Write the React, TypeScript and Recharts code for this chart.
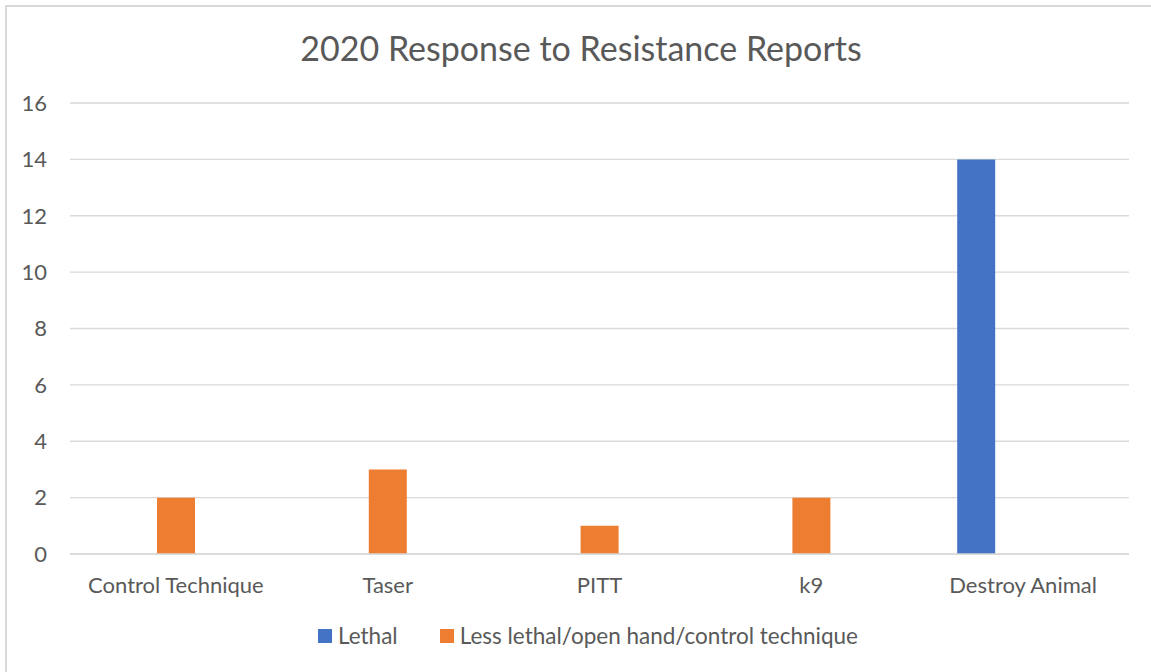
import { BarChart, Bar, XAxis, YAxis, CartesianGrid } from 'recharts';

const categories = ['Control Technique', 'Taser', 'PITT', 'k9', 'Destroy Animal'];
const lethal = [null, null, null, null, 14];
const lessLethal = [2, 3, 1, 2, null];
// Excel-style third (empty) slot so the orange bar sits in the middle of each group
const emptySlot = [null, null, null, null, null];
const yTicks = [0, 2, 4, 6, 8, 10, 12, 14, 16];

const SERIES = [
  { key: 'lethal', name: 'Lethal', color: '#4472C4' },
  { key: 'lessLethal', name: 'Less lethal/open hand/control technique', color: '#ED7D31' },
];

const FONT = 'Lato, "Open Sans", sans-serif';
const TEXT = '#595959';
const GRID = '#d9d9d9';

const data = categories.map((name, i) => ({
  name,
  lethal: lethal[i],
  lessLethal: lessLethal[i],
  empty: emptySlot[i],
}));

export default function App() {
  return (
    <div style={{ position: 'absolute', left: 0, top: 0, width: 1151, height: 672, background: '#fff', fontFamily: FONT, overflow: 'hidden' }}>
      {/* chart frame, only left and top edges are visible in the crop */}
      <div style={{ position: 'absolute', left: 5, top: 5, width: 2, height: 667, background: GRID }} />
      <div style={{ position: 'absolute', left: 5, top: 5, width: 1146, height: 2, background: GRID }} />
      <div style={{ position: 'absolute', left: 0, width: 1162, top: 27, textAlign: 'center', fontSize: 34, color: TEXT }}>
        2020 Response to Resistance Reports
      </div>
      <div style={{ position: 'absolute', left: 0, top: 0 }}>
        <BarChart width={1151} height={672} data={data} margin={{ top: 103, right: 22, bottom: 74, left: 0 }} barSize={38} barGap={9}>
          <CartesianGrid vertical={false} stroke={GRID} strokeWidth={1.3} />
          <XAxis dataKey="name" height={44} axisLine={{ stroke: GRID, strokeWidth: 1.3 }} tickLine={false} tick={{ fill: TEXT, fontSize: 22, fontFamily: FONT }} tickMargin={17} />
          <YAxis width={70} domain={[0, 16]} ticks={yTicks} axisLine={false} tickLine={false} tick={{ fill: TEXT, fontSize: 22, fontFamily: FONT }} tickMargin={17} />
          {SERIES.map((s) => (
            <Bar key={s.key} dataKey={s.key} name={s.name} fill={s.color} isAnimationActive={false} />
          ))}
          <Bar dataKey="empty" fill="none" legendType="none" isAnimationActive={false} />
        </BarChart>
      </div>
      <div style={{ position: 'absolute', left: 318, top: 622, display: 'flex', alignItems: 'center', fontSize: 22.5, color: TEXT }}>
        {SERIES.map((s, i) => (
          <div key={s.key} style={{ display: 'flex', alignItems: 'center', marginRight: i === 0 ? 42 : 0 }}>
            <span style={{ display: 'inline-block', width: 14, height: 14, background: s.color, marginRight: 6 }} />
            <span>{s.name}</span>
          </div>
        ))}
      </div>
    </div>
  );
}
